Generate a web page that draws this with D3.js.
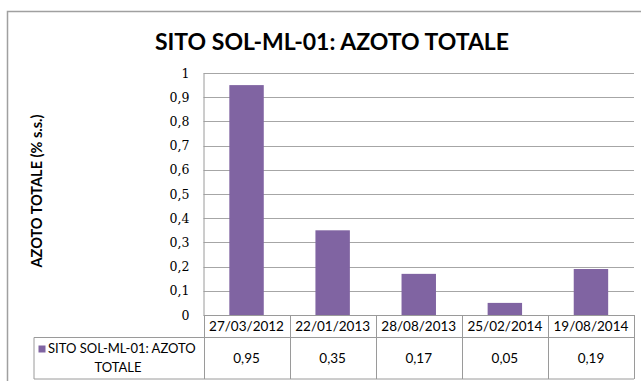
<!DOCTYPE html>
<html>
<head>
<meta charset="utf-8">
<script src="https://cdn.jsdelivr.net/npm/d3@7"></script>
<style>
  html, body { margin: 0; padding: 0; background: #fff; }
  svg { display: block; }
</style>
</head>
<body>
<svg id="chart" width="641" height="381"></svg>
<script>
// Campioni di suolo: azoto totale per data di prelievo
const dates = ["27/03/2012", "22/01/2013", "28/08/2013", "25/02/2014", "19/08/2014"];
const values = [0.95, 0.35, 0.17, 0.05, 0.19];
const valueLabels = ["0,95", "0,35", "0,17", "0,05", "0,19"];
const yTicks = [0, 0.1, 0.2, 0.3, 0.4, 0.5, 0.6, 0.7, 0.8, 0.9, 1];
const seriesName = ["SITO SOL-ML-01: AZOTO", "TOTALE"];
const chartTitle = "SITO SOL-ML-01: AZOTO TOTALE";
const yTitle = "AZOTO TOTALE (% s.s.)";

const sans = "Lato, 'Open Sans', sans-serif";
const serif = "'DejaVu Serif', 'Liberation Serif', serif";
const barColor = "#8064a2";
const gridColor = "#a6a6a6";
const tableColor = "#9a9a9a";

const svg = d3.select("#chart");

// chart frame
svg.append("rect")
  .attr("x", 7.5).attr("y", 11.5)
  .attr("width", 660).attr("height", 380)
  .attr("fill", "#fff").attr("stroke", "#a0a0a0").attr("stroke-width", 1.5);

const plot = { left: 203.5, right: 634, top: 73, bottom: 315 };
const rowH1 = 22.5, rowBottom = 379;
const legendLeft = 34;

const x = d3.scaleBand().domain(dates).range([plot.left, plot.right]).paddingInner(0.6).paddingOuter(0.3);
const xCell = d3.scaleBand().domain(dates).range([plot.left, plot.right]);
const y = d3.scaleLinear().domain([0, 1]).range([plot.bottom, plot.top]);

// title
svg.append("text")
  .attr("x", 332).attr("y", 50)
  .attr("text-anchor", "middle")
  .attr("font-family", sans).attr("font-weight", "bold")
  .attr("font-size", 23).attr("fill", "#000")
  .text(chartTitle);

// gridlines
svg.append("g")
  .selectAll("line").data(yTicks.filter(d => d > 0)).join("line")
  .attr("x1", plot.left).attr("x2", plot.right)
  .attr("y1", d => Math.round(y(d)) + 0.5).attr("y2", d => Math.round(y(d)) + 0.5)
  .attr("stroke", gridColor).attr("stroke-width", 1.2);

// y axis
const yAxis = d3.axisLeft(y).tickValues(yTicks)
  .tickSize(0).tickPadding(14)
  .tickFormat(d => d3.format(".1~f")(d).replace(".", ","));
const gy = svg.append("g").attr("transform", `translate(${plot.left},0)`).call(yAxis);
gy.attr("font-family", serif).attr("font-size", 12.5);
gy.select(".domain").attr("stroke", tableColor);
gy.selectAll("text").attr("fill", "#000");

// y axis title
svg.append("text")
  .attr("transform", "translate(42,191) rotate(-90)")
  .attr("text-anchor", "middle")
  .attr("font-family", sans).attr("font-weight", "bold")
  .attr("font-size", 14.5).attr("fill", "#000")
  .text(yTitle);

// bars
svg.append("g")
  .selectAll("rect").data(values).join("rect")
  .attr("x", (d, i) => x(dates[i]))
  .attr("width", x.bandwidth())
  .attr("y", d => y(d))
  .attr("height", d => y(0) - y(d))
  .attr("fill", barColor);

// data table
const table = svg.append("g").attr("stroke", tableColor).attr("stroke-width", 1).attr("fill", "none");
table.append("line").attr("x1", plot.left).attr("x2", plot.right).attr("y1", plot.bottom + 0.5).attr("y2", plot.bottom + 0.5);
table.append("line").attr("x1", legendLeft).attr("x2", plot.right).attr("y1", plot.bottom + rowH1).attr("y2", plot.bottom + rowH1);
table.append("line").attr("x1", legendLeft).attr("x2", plot.right).attr("y1", rowBottom).attr("y2", rowBottom);
table.append("line").attr("x1", legendLeft).attr("x2", legendLeft).attr("y1", plot.bottom + rowH1).attr("y2", rowBottom);
table.selectAll(".vdiv").data(dates).join("line")
  .attr("class", "vdiv")
  .attr("x1", d => Math.round(xCell(d)) + 0.5).attr("x2", d => Math.round(xCell(d)) + 0.5)
  .attr("y1", plot.bottom).attr("y2", rowBottom);
table.append("line")
  .attr("x1", plot.right + 0.5).attr("x2", plot.right + 0.5)
  .attr("y1", plot.bottom).attr("y2", rowBottom);

// category labels
svg.append("g").selectAll("text").data(dates).join("text")
  .attr("x", d => xCell(d) + xCell.bandwidth() / 2)
  .attr("y", plot.bottom + 16)
  .attr("text-anchor", "middle")
  .attr("font-family", sans).attr("font-size", 13.5).attr("fill", "#000")
  .text(d => d);

// value labels
svg.append("g").selectAll("text").data(valueLabels).join("text")
  .attr("x", (d, i) => xCell(dates[i]) + xCell.bandwidth() / 2)
  .attr("y", 363)
  .attr("text-anchor", "middle")
  .attr("font-family", sans).attr("font-size", 13.5).attr("fill", "#000")
  .text(d => d);

// legend key and series name
svg.append("rect")
  .attr("x", 38.5).attr("y", 345.5).attr("width", 7).attr("height", 7)
  .attr("fill", barColor);
svg.append("text")
  .attr("x", 48).attr("y", 353)
  .attr("font-family", sans).attr("font-size", 13).attr("fill", "#000")
  .text(seriesName[0]);
svg.append("text")
  .attr("x", 118).attr("y", 372)
  .attr("text-anchor", "middle")
  .attr("font-family", sans).attr("font-size", 13).attr("fill", "#000")
  .text(seriesName[1]);
</script>
</body>
</html>
